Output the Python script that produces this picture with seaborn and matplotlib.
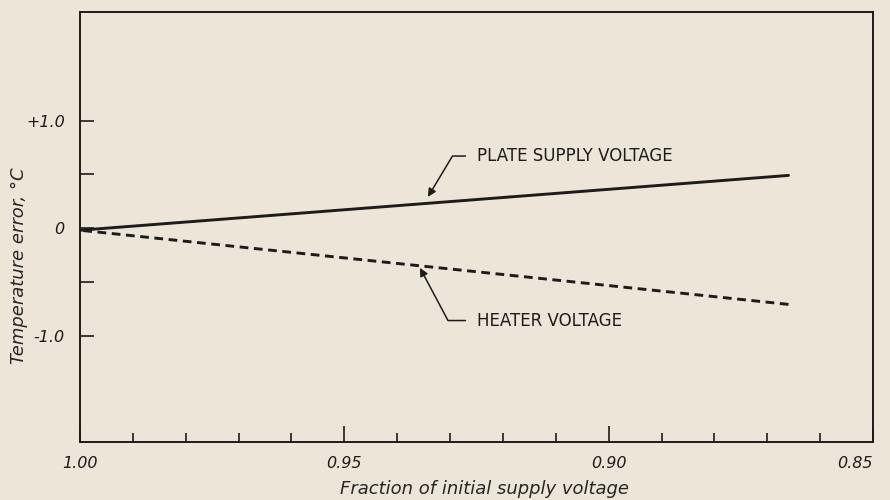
import matplotlib
matplotlib.use("Agg")
import matplotlib.pyplot as plt
import seaborn as sns
import pandas as pd
from matplotlib.ticker import FixedLocator, MultipleLocator

# data
fraction = [1.00, 0.866]
plate_supply = [-0.02, 0.49]
heater = [-0.02, -0.71]

x_ticks = [1.00, 0.95, 0.90, 0.85]
x_labels = ["1.00", "0.95", "0.90", "0.85"]
y_ticks = [-1.0, 0.0, 1.0]
y_labels = ["-1.0", "0", "+1.0"]

paper = "#eee5d9"
ink = "#1c1c1c"

sns.set_theme(style="ticks", rc={
    "figure.facecolor": paper,
    "axes.facecolor": paper,
    "axes.edgecolor": ink,
    "axes.linewidth": 1.4,
    "xtick.color": ink,
    "ytick.color": ink,
    "text.color": ink,
})
plt.rcParams["font.family"] = ["DejaVu Sans"]

df = pd.DataFrame({
    "fraction": fraction + fraction,
    "error": plate_supply + heater,
    "series": ["plate"] * len(fraction) + ["heater"] * len(fraction),
})

fig = plt.figure(figsize=(8.9, 5.0), dpi=100)
ax = fig.add_axes([0.0899, 0.116, 0.8911, 0.86])

sns.lineplot(data=df, x="fraction", y="error", style="series",
             dashes={"plate": "", "heater": (3.0, 1.9)},
             color=ink, linewidth=2.1, legend=False, ax=ax)

ax.set_xlim(1.00, 0.85)
ax.set_ylim(-1.99, 2.01)

ax.xaxis.set_major_locator(FixedLocator(x_ticks))
ax.set_xticklabels(x_labels, fontstyle="italic", fontsize=11.5)
ax.get_xticklabels()[-1].set_horizontalalignment("right")
ax.xaxis.set_minor_locator(MultipleLocator(0.01))
ax.yaxis.set_major_locator(FixedLocator(y_ticks))
ax.set_yticklabels(y_labels, fontstyle="italic", fontsize=11.5)
ax.yaxis.set_minor_locator(FixedLocator([-0.5, 0.5]))

ax.tick_params(axis="x", which="major", direction="in", length=11.5, width=1.2, pad=10)
ax.tick_params(axis="x", which="minor", direction="in", length=6.5, width=1.2)
ax.tick_params(axis="y", which="both", direction="in", length=10, width=1.2, pad=11)

ax.set_xlabel("Fraction of initial supply voltage", fontstyle="italic", fontsize=13)
ax.set_ylabel("Temperature error, \u00b0C", fontstyle="italic", fontsize=13)
ax.xaxis.set_label_coords(0.51, -0.088)
ax.yaxis.set_label_coords(-0.066, 0.41)

arrow = dict(arrowstyle="-|>", color=ink, lw=1.1, mutation_scale=12,
             connectionstyle="angle,angleA=0,angleB=59",
             relpos=(0, 0.5), shrinkA=6, shrinkB=0)
ax.annotate("PLATE SUPPLY VOLTAGE", xy=(0.9342, 0.29), xytext=(0.9249, 0.67),
            ha="left", va="center", fontsize=12, arrowprops=arrow)

arrow2 = dict(arrow, connectionstyle="angle,angleA=0,angleB=-62")
ax.annotate("HEATER VOLTAGE", xy=(0.9357, -0.37), xytext=(0.9249, -0.86),
            ha="left", va="center", fontsize=12, arrowprops=arrow2)

fig.savefig("out.png", dpi=100, facecolor=paper)
